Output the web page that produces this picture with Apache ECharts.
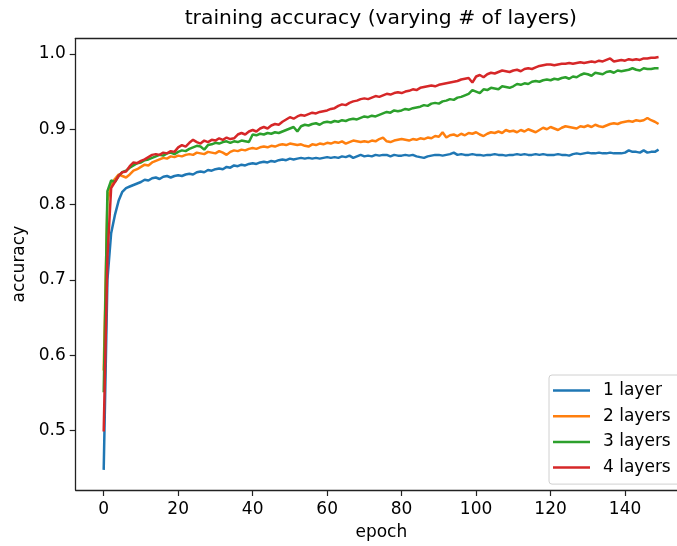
<!DOCTYPE html>
<html>
<head>
<meta charset="utf-8">
<script src="https://cdn.jsdelivr.net/npm/echarts@6/dist/echarts.min.js"></script>
<style>html,body{margin:0;padding:0;background:#fff}#c{width:677px;height:546px}</style>
</head>
<body>
<div id="c"></div>
<script>
const seriesNames = ['1 layer', '2 layers', '3 layers', '4 layers'];
const xTicks = [0, 20, 40, 60, 80, 100, 120, 140];
const yTicks = [0.5, 0.6, 0.7, 0.8, 0.9, 1.0];

const layer1 = [
0.448,0.700,0.762,0.786,0.805,0.817,0.822,0.824,0.826,0.828,
0.830,0.833,0.832,0.835,0.836,0.834,0.837,0.838,0.836,0.838,
0.839,0.838,0.840,0.841,0.840,0.843,0.844,0.843,0.846,0.845,
0.847,0.848,0.847,0.850,0.849,0.852,0.851,0.853,0.852,0.854,
0.855,0.854,0.856,0.857,0.856,0.858,0.857,0.859,0.860,0.859,
0.861,0.860,0.861,0.862,0.861,0.862,0.861,0.862,0.861,0.862,
0.863,0.862,0.863,0.862,0.864,0.863,0.865,0.862,0.864,0.866,
0.864,0.865,0.864,0.866,0.865,0.866,0.866,0.864,0.866,0.865,
0.865,0.866,0.865,0.866,0.864,0.863,0.862,0.864,0.865,0.866,
0.866,0.865,0.866,0.867,0.869,0.866,0.867,0.866,0.866,0.867,
0.866,0.866,0.865,0.866,0.866,0.867,0.866,0.866,0.865,0.866,
0.866,0.867,0.866,0.867,0.866,0.866,0.867,0.866,0.867,0.866,
0.866,0.866,0.867,0.866,0.866,0.865,0.867,0.868,0.867,0.868,
0.869,0.868,0.868,0.869,0.868,0.868,0.869,0.868,0.868,0.868,
0.869,0.872,0.870,0.870,0.869,0.872,0.869,0.870,0.870,0.873];

const layer2 = [
0.580,0.805,0.826,0.834,0.840,0.838,0.836,0.840,0.845,0.847,
0.850,0.853,0.852,0.856,0.858,0.860,0.862,0.861,0.864,0.863,
0.865,0.864,0.866,0.867,0.866,0.869,0.868,0.867,0.870,0.869,
0.868,0.871,0.869,0.866,0.870,0.872,0.871,0.873,0.872,0.874,
0.875,0.874,0.876,0.877,0.876,0.878,0.877,0.879,0.880,0.879,
0.881,0.880,0.879,0.880,0.878,0.877,0.880,0.879,0.881,0.880,
0.882,0.881,0.883,0.882,0.884,0.881,0.883,0.885,0.884,0.883,
0.884,0.883,0.885,0.884,0.887,0.889,0.884,0.883,0.885,0.886,
0.887,0.886,0.885,0.887,0.886,0.888,0.887,0.889,0.888,0.891,
0.890,0.896,0.889,0.892,0.893,0.891,0.894,0.892,0.895,0.894,
0.896,0.893,0.891,0.894,0.896,0.895,0.897,0.895,0.899,0.897,
0.898,0.896,0.899,0.897,0.900,0.898,0.896,0.899,0.902,0.900,
0.903,0.901,0.899,0.902,0.904,0.903,0.902,0.901,0.904,0.903,
0.905,0.903,0.906,0.904,0.903,0.905,0.907,0.908,0.907,0.909,
0.910,0.911,0.910,0.912,0.911,0.912,0.915,0.912,0.910,0.907];

const layer3 = [
0.551,0.818,0.832,0.830,0.838,0.843,0.845,0.849,0.852,0.855,
0.856,0.859,0.860,0.862,0.864,0.866,0.865,0.868,0.869,0.867,
0.870,0.872,0.871,0.874,0.876,0.878,0.877,0.873,0.879,0.880,
0.882,0.881,0.883,0.884,0.882,0.884,0.883,0.885,0.884,0.883,
0.893,0.892,0.894,0.893,0.895,0.894,0.896,0.895,0.897,0.899,
0.901,0.903,0.897,0.904,0.906,0.905,0.907,0.908,0.906,0.909,
0.910,0.909,0.911,0.910,0.912,0.911,0.913,0.914,0.913,0.915,
0.917,0.916,0.918,0.917,0.919,0.921,0.923,0.922,0.925,0.924,
0.925,0.927,0.926,0.928,0.929,0.930,0.932,0.931,0.934,0.935,
0.934,0.937,0.938,0.940,0.939,0.942,0.943,0.945,0.947,0.952,
0.950,0.948,0.953,0.952,0.955,0.954,0.953,0.957,0.956,0.955,
0.957,0.960,0.959,0.961,0.960,0.963,0.964,0.963,0.965,0.966,
0.965,0.967,0.966,0.968,0.969,0.967,0.970,0.969,0.972,0.974,
0.973,0.971,0.975,0.974,0.973,0.976,0.977,0.975,0.978,0.977,
0.978,0.979,0.981,0.979,0.978,0.981,0.980,0.980,0.981,0.981];

const layer4 = [
0.499,0.730,0.822,0.830,0.838,0.843,0.844,0.851,0.856,0.855,
0.858,0.860,0.863,0.866,0.867,0.866,0.869,0.868,0.871,0.870,
0.876,0.879,0.877,0.882,0.886,0.883,0.881,0.885,0.883,0.886,
0.885,0.888,0.886,0.889,0.887,0.888,0.893,0.895,0.893,0.897,
0.899,0.897,0.901,0.903,0.901,0.905,0.907,0.906,0.910,0.913,
0.916,0.914,0.917,0.919,0.918,0.920,0.922,0.921,0.923,0.924,
0.925,0.927,0.928,0.931,0.933,0.932,0.935,0.937,0.938,0.940,
0.941,0.940,0.942,0.944,0.943,0.945,0.947,0.946,0.948,0.949,
0.948,0.950,0.951,0.953,0.952,0.955,0.956,0.957,0.958,0.957,
0.959,0.960,0.961,0.962,0.963,0.964,0.966,0.967,0.968,0.962,
0.970,0.972,0.969,0.973,0.975,0.974,0.976,0.978,0.977,0.976,
0.978,0.979,0.977,0.980,0.981,0.980,0.982,0.984,0.985,0.986,
0.986,0.985,0.986,0.987,0.987,0.988,0.987,0.988,0.989,0.988,
0.989,0.990,0.989,0.991,0.990,0.992,0.994,0.990,0.991,0.992,
0.991,0.993,0.992,0.993,0.992,0.994,0.994,0.995,0.995,0.996];

const colors = ['#1f77b4', '#ff7f0e', '#2ca02c', '#d62728'];
const allData = [layer1, layer2, layer3, layer4];
const FONT = 'DejaVu Sans';
const FS = 17;
const X_MIN = -7.52, X_MAX = 153.95;

const chart = echarts.init(document.getElementById('c'), null, {renderer: 'canvas'});
chart.setOption({
  animation: false,
  backgroundColor: '#fff',
  color: colors,
  textStyle: {fontFamily: FONT},
  graphic: [{
    type: 'text', x: 380.8, y: 19,
    style: {text: 'training accuracy (varying # of layers)', font: '20.3px "DejaVu Sans"', fill: '#000', textAlign: 'center', textVerticalAlign: 'middle'}
  }],
  grid: {left: 75.7, top: 38.3, right: 0, bottom: 53.7, show: false},
  xAxis: [{
    type: 'value', min: X_MIN, max: X_MAX,
    name: 'epoch', nameLocation: 'middle', nameGap: 34,
    nameTextStyle: {fontSize: FS, color: '#000', fontFamily: FONT, padding: [0, 0, 0, 10]},
    axisLine: {show: true, onZero: false, lineStyle: {color: '#222', width: 1.3}},
    axisTick: {show: true, inside: false, length: 6, lineStyle: {color: '#222', width: 1.2}, customValues: xTicks},
    axisLabel: {fontSize: FS, color: '#000', margin: 11, fontFamily: FONT, customValues: xTicks},
    splitLine: {show: false}
  }, {
    type: 'value', position: 'top', min: X_MIN, max: X_MAX,
    axisLine: {show: true, onZero: false, lineStyle: {color: '#222', width: 1.3}},
    axisTick: {show: false}, axisLabel: {show: false}, splitLine: {show: false}
  }],
  yAxis: {
    type: 'value', min: 0.4213, max: 1.0207,
    name: 'accuracy', nameLocation: 'middle', nameGap: 45, nameRotate: 90,
    nameTextStyle: {fontSize: FS, color: '#000', fontFamily: FONT},
    axisLine: {show: true, onZero: false, lineStyle: {color: '#222', width: 1.3}},
    axisTick: {show: true, inside: false, length: 6, lineStyle: {color: '#222', width: 1.2}, customValues: yTicks},
    axisLabel: {fontSize: FS, color: '#000', margin: 10, fontFamily: FONT, customValues: yTicks, formatter: v => v.toFixed(1)},
    splitLine: {show: false}
  },
  legend: {
    orient: 'vertical', left: 549, top: 375,
    padding: [7, 12, 8, 4],
    backgroundColor: 'rgba(255,255,255,0.8)', borderColor: '#d0d0d0', borderWidth: 1, borderRadius: 3,
    icon: 'rect', itemWidth: 37, itemHeight: 2.5, itemGap: 8.7,
    textStyle: {fontSize: FS, color: '#000', fontFamily: FONT, lineHeight: 17, padding: [0, 0, 0, 8]},
    data: seriesNames
  },
  series: allData.map((arr, i) => ({
    name: seriesNames[i], type: 'line', showSymbol: false, symbol: 'none', xAxisIndex: 0,
    lineStyle: {width: 2.5, color: colors[i]}, itemStyle: {color: colors[i]},
    data: arr.map((v, e) => [e, v])
  }))
});
</script>
</body>
</html>
